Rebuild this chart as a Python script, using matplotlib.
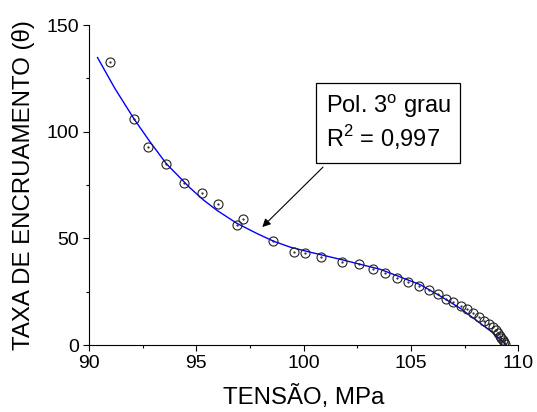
import numpy as np
import matplotlib
matplotlib.use("Agg")
import matplotlib.pyplot as plt
from matplotlib.patches import Rectangle

plt.rcParams['font.family'] = ['Liberation Sans', 'DejaVu Sans']
plt.rcParams['mathtext.fontset'] = 'custom'
plt.rcParams['mathtext.rm'] = 'Liberation Sans'

# data
tensao = [90.98, 92.1, 92.75, 93.6, 94.4, 95.27, 96.0, 96.9, 97.18, 98.58,
          99.56, 100.07, 100.82, 101.8, 102.59, 103.24, 103.8, 104.36, 104.87,
          105.38, 105.85, 106.27, 106.64, 106.97, 107.34, 107.62, 107.9, 108.18,
          108.41, 108.65, 108.83, 108.97, 109.07, 109.15, 109.22, 109.3, 109.36, 109.4]
taxa = [132.7, 106.0, 92.8, 84.8, 76.0, 71.3, 66.1, 56.2, 59.0, 48.8,
        43.6, 43.1, 41.3, 38.9, 38.0, 35.6, 33.7, 31.4, 29.5,
        27.7, 25.8, 23.9, 21.6, 20.2, 18.3, 16.9, 15.0, 13.1,
        11.3, 9.8, 8.4, 7.0, 5.6, 4.4, 3.3, 2.2, 1.2, 0.4]

# fitted curve (3rd-degree polynomial)
ajuste_x = [90.39, 91.2, 92.1, 92.85, 93.6, 94.71, 95.33, 95.95, 96.88, 97.82,
            98.59, 99.37, 100.27, 101.7, 103.57, 105.43, 106.36, 107.3, 108.23,
            108.85, 109.45]
ajuste_y = [134.8, 120.3, 105.9, 95.1, 85.0, 73.6, 68.0, 63.2, 57.1, 52.3,
            48.7, 45.9, 43.6, 40.2, 35.5, 28.3, 23.0, 17.2, 10.2,
            5.5, 0.0]

xticks = [90, 95, 100, 105, 110]
yticks = [0, 50, 100, 150]
fit_label = ['Pol. 3$^\\mathregular{o}$ grau', 'R$^\\mathregular{2}$ = 0,997']

fig = plt.figure(figsize=(5.37, 4.12), dpi=100)
ax = fig.add_axes([0.166, 0.1626, 0.799, 0.7764])

ax.plot(ajuste_x, ajuste_y, color='#0000ff', lw=1.0, zorder=2,
        solid_joinstyle='round')
ax.plot(tensao, taxa, linestyle='none', marker='o', ms=6.5, mfc='none',
        mec='#222222', mew=0.8, zorder=3)
ax.plot(tensao, taxa, linestyle='none', marker='.', ms=1.2, color='#222222', zorder=3)

ax.set_xlim(90, 110)
ax.set_ylim(0, 150)
ax.set_xticks(xticks)
ax.set_yticks(yticks)
ax.set_xticks([92.5, 97.5, 102.5, 107.5], minor=True)
ax.set_yticks([25, 75, 125], minor=True)
for s in ['top', 'right']:
    ax.spines[s].set_visible(False)
ax.tick_params(which='major', direction='out', length=4.5, width=0.8, labelsize=14, pad=3)
ax.tick_params(which='minor', direction='out', length=2.5, width=0.8)
ax.set_xlabel('TENSÃO, MPa', fontsize=17.3, labelpad=9)
ax.set_ylabel('TAXA DE ENCRUAMENTO (θ)', fontsize=17.3, labelpad=8)

# annotation box
ax.add_patch(Rectangle((100.58, 85.3), 6.72, 37.5, fill=False, ec='black', lw=0.9,
                       zorder=4, clip_on=False))
ax.text(101.05, 109.0, fit_label[0], fontsize=17, zorder=5)
ax.text(101.05, 93.0, fit_label[1], fontsize=17, zorder=5)
ax.annotate('', xy=(98.07, 55.3), xytext=(100.9, 83.4),
            arrowprops=dict(arrowstyle='-|>', color='black', lw=0.8,
                            mutation_scale=12, shrinkA=0, shrinkB=0))

fig.savefig('out.png', dpi=100)
